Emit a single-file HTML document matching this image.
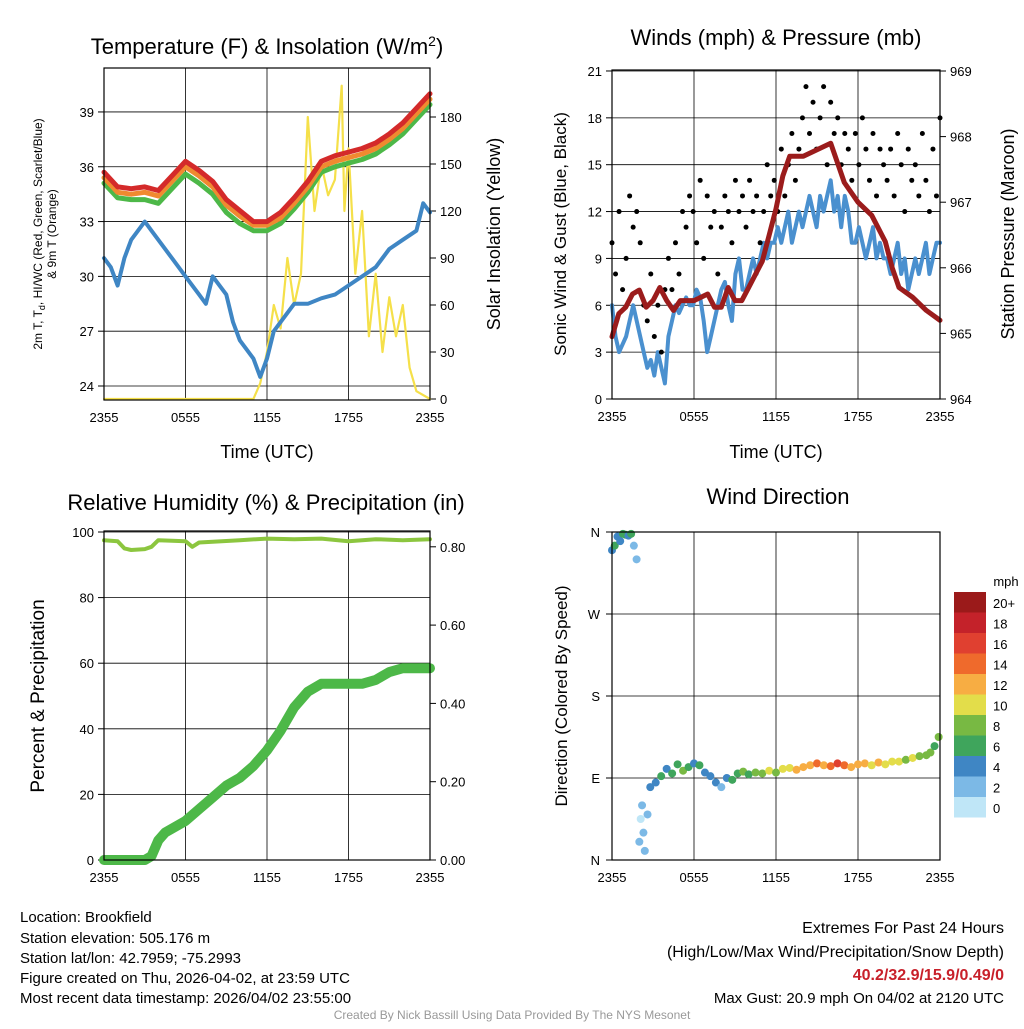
<!DOCTYPE html>
<html><head><meta charset="utf-8"><style>
body{margin:0;background:#fff}
svg text{font-family:"Liberation Sans",sans-serif;fill:#000}
</style></head><body>
<svg id="c" width="1024" height="1024" viewBox="0 0 1024 1024" xmlns="http://www.w3.org/2000/svg">
<rect width="1024" height="1024" fill="#fff"/>
<g id="g"></g>
<text x="20" y="922" font-size="15">Location: Brookfield</text>
<text x="20" y="943" font-size="15">Station elevation: 505.176 m</text>
<text x="20" y="963" font-size="15">Station lat/lon: 42.7959; -75.2993</text>
<text x="20" y="983" font-size="15">Figure created on Thu, 2026-04-02, at 23:59 UTC</text>
<text x="20" y="1003" font-size="15">Most recent data timestamp: 2026/04/02 23:55:00</text>
<text x="1004" y="933" font-size="16" text-anchor="end">Extremes For Past 24 Hours</text>
<text x="1004" y="957" font-size="16" text-anchor="end">(High/Low/Max Wind/Precipitation/Snow Depth)</text>
<text x="1004" y="980" font-size="16" font-weight="bold" text-anchor="end" style="fill:#c8202a">40.2/32.9/15.9/0.49/0</text>
<text x="1004" y="1003" font-size="15" text-anchor="end">Max Gust: 20.9 mph On 04/02 at 2120 UTC</text>
<text x="512" y="1019" font-size="12" text-anchor="middle" style="fill:#999">Created By Nick Bassill Using Data Provided By The NYS Mesonet</text>
</svg>
<script>
const hourTicks=["2355","0555","1155","1755","2355"];
const tempRed=[35.7,34.9,34.8,34.9,34.7,35.5,36.3,35.8,35.2,34.2,33.6,33.0,33.0,33.5,34.3,35.2,36.3,36.6,36.8,37.0,37.3,37.8,38.4,39.2,40.0];
const tempOrange=[35.4,34.6,34.5,34.6,34.4,35.2,36.0,35.5,34.9,33.9,33.3,32.8,32.8,33.2,34.0,34.9,36.0,36.3,36.5,36.7,37.0,37.5,38.1,38.9,39.7];
const tempGreen=[35.1,34.3,34.2,34.2,34.0,34.8,35.6,35.1,34.5,33.5,32.9,32.5,32.5,32.9,33.7,34.6,35.7,36.0,36.2,36.4,36.7,37.2,37.8,38.6,39.4];
const dewTimes=[0,0.5,1,1.5,2,2.5,3,3.5,4,5,6,7,7.5,8,9,9.5,10,11,11.5,12,12.5,13,14,15,16,17,18,19,20,21,22,23,23.5,24];
const dewVals=[31,30.5,29.5,31,32,32.5,33,32.5,32,31,30,29,28.5,30,29,27.5,26.5,25.5,24.5,25.5,27,27.5,28.5,28.5,28.8,29,29.5,30,30.5,31.5,32,32.5,34,33.5];
const solTimes=[0,11,11.5,12,12.5,13,13.5,14,14.5,15,15.5,16,16.5,17,17.5,17.7,18,18.5,19,19.5,20,20.5,21,21.5,22,22.5,23,24];
const solVals=[0,0,10,30,60,45,90,60,80,180,120,150,130,140,200,120,160,80,120,40,80,30,65,40,60,20,5,0];
const presTimes=[0,0.5,1,1.5,2,2.5,3,3.5,4,4.5,5,6,7,7.5,8,8.5,9,9.5,10,11,11.5,12,12.5,13,14,15,16,16.5,17,18,19,20,20.5,21,22,23,24];
const presVals=[964.95,965.3,965.4,965.6,965.66,965.4,965.5,965.7,965.5,965.35,965.5,965.5,965.6,965.4,965.4,965.7,965.5,965.5,965.7,966.1,966.5,966.9,967.4,967.7,967.7,967.8,967.9,967.6,967.3,967.0,966.8,966.4,966.0,965.7,965.55,965.35,965.2];
const windVals=[6,4,3,3.5,4,5,6,5,4,3,2,2.5,1.5,3,2,1,4,5,6,5.5,6,6.5,6,6,7,6.5,5,3,4,5,6,7,7.5,6,5,8,9,7,7,8,9,8,9,10,9,10,10,11,10,11,12,10,11,12,11,12,13,12,11,13,12,13,14,12,13,11,13,12,10,10,11,10,9,10,11,9,10,9,9,8,9,10,8,9,7,8,9,8,9,10,8,9,10,10];
const gustVals=[10,8,12,7,9,13,11,12,10,6,5,8,4,6,3,7,9,7,10,8,12,11,13,12,10,14,9,13,11,12,8,11,13,12,10,14,12,13,11,14,12,13,10,12,15,13,14,12,16,13,15,17,14,16,18,20,17,19,16,18,20,15,19,17,18,15,17,16,14,17,15,18,16,14,17,13,16,15,14,16,13,17,15,12,16,14,15,13,17,14,12,16,13,18];
const rhTimes=[0,1,1.5,2,3,3.5,4,6,6.5,7,8,10,12,14,16,18,20,22,24];
const rhVals=[97.5,97.2,95,94.5,94.8,95.5,97.5,97.2,95.5,96.8,97,97.5,98,97.8,98,97.2,97.8,97.5,97.8];
const prTimes=[0,3,3.5,4,4.5,5,6,7,8,9,10,11,12,13,14,15,16,17,18,19,20,21,22,23,24];
const prVals=[0,0,0.01,0.05,0.07,0.08,0.10,0.13,0.16,0.19,0.21,0.24,0.28,0.33,0.39,0.43,0.45,0.45,0.45,0.45,0.46,0.48,0.49,0.49,0.49];
const dirTimes=[0,0.2,0.4,0.6,0.8,1.0,1.2,1.4,1.6,1.8,2.0,2.1,2.2,2.3,2.4,2.6,2.8,3.2,3.6,4.0,4.4,4.8,5.2,5.6,6.0,6.4,6.8,7.2,7.6,8.0,8.4,8.8,9.2,9.6,10,10.5,11,11.5,12,12.5,13,13.5,14,14.5,15,15.5,16,16.5,17,17.5,18,18.5,19,19.5,20,20.5,21,21.5,22,22.5,23,23.3,23.6,23.9];
const dirVals=[340,345,355,350,358,357,356,358,345,330,20,45,60,30,10,50,80,85,92,100,95,105,98,102,106,104,96,92,85,80,90,88,95,97,94,96,95,98,96,100,101,99,102,104,106,104,103,106,104,102,105,106,104,107,105,108,108,110,112,114,115,118,125,135];
const dirSpd=[5,6,4,5,6,7,5,6,2,3,2,1,2,3,2,3,4,4,6,5,7,6,8,6,5,7,4,5,4,3,5,6,7,8,7,8,9,10,9,10,11,12,12,13,14,13,15,16,14,13,12,13,11,12,11,10,10,9,10,9,9,8,7,8];
const speedColors=["#bfe6f7","#7cb9e6","#3f86c4","#3fa55c","#78b943","#e3dd4a","#f7ad43","#ef6a2c","#e04030","#c4222a","#9b1a1a"];
const speedLabels=["0","2","4","6","8","10","12","14","16","18","20+"];

const NS="http://www.w3.org/2000/svg",G=document.getElementById('g');
function mk(t,a,p){const e=document.createElementNS(NS,t);for(const k in a)e.setAttribute(k,a[k]);(p||G).appendChild(e);return e;}
function txt(x,y,s,sz,anc,extra){const e=mk('text',Object.assign({x:x,y:y,'font-size':sz,'text-anchor':anc||'middle'},extra||{}));e.textContent=s;return e;}
function poly(ts,vs,sx,sy,col,w,name){const d=ts.map((t,i)=>(i?'L':'M')+sx(t).toFixed(1)+','+sy(vs[i]).toFixed(1)).join('');const p=mk('path',{d:d,fill:'none',stroke:col,'stroke-width':w,'stroke-linejoin':'round','stroke-linecap':'round'});

return p;}
function frame(x0,y0,x1,y1,name){const r=mk('rect',{x:x0,y:y0,width:x1-x0,height:y1-y0,fill:'none',stroke:'#000','stroke-width':1.2});

}
function hgrid(x0,x1,y){mk('line',{x1:x0,x2:x1,y1:y,y2:y,stroke:'#000','stroke-width':0.8});}
function vgrid(x,y0,y1){mk('line',{x1:x,x2:x,y1:y0,y2:y1,stroke:'#000','stroke-width':0.8});}
const hrs=i=>i*6;
const idx=a=>a.map((_,i)=>i);
const even=a=>a.map((_,i)=>i*24/(a.length-1));

// Panel 1
{const X0=104,X1=430,Y0=68,Y1=400;const sx=h=>X0+h*(X1-X0)/24,sy=v=>386-(v-24)*18.27,syR=v=>399-v*47/30;
[24,27,30,33,36,39].forEach(v=>{hgrid(X0,X1,sy(v));mk('line',{x1:X0-6,x2:X0,y1:sy(v),y2:sy(v),stroke:'#000'});txt(X0-10,sy(v)+5,v,13,'end');});
[0,30,60,90,120,150,180].forEach(v=>{mk('line',{x1:X1,x2:X1+6,y1:syR(v),y2:syR(v),stroke:'#000'});txt(X1+10,syR(v)+5,v,13,'start');});
hourTicks.forEach((s,i)=>{vgrid(sx(hrs(i)),Y0,Y1);txt(sx(hrs(i)),Y1+22,s,13);});
const ht=idx(tempRed);
poly(solTimes,solVals,sx,syR,'#f5e04a',2.2,'solar-insolation-line');
poly(dewTimes,dewVals,sx,sy,'#3f86c4',4,'dewpoint-line');
poly(ht,tempGreen,sx,sy,'#4db848',5,'heat-index-line');
poly(ht,tempOrange,sx,sy,'#f08a30',5,'temp-9m-line');
poly(ht,tempRed,sx,sy,'#d42a2a',5,'temp-2m-line');
frame(X0,Y0,X1,Y1,'temp-plot-frame');
const t=txt(267,54,'Temperature (F) & Insolation (W/m',22);const ts=mk('tspan',{dy:-8,'font-size':14},t);ts.textContent='2';const t2=mk('tspan',{dy:8},t);t2.textContent=')';
txt(267,458,'Time (UTC)',18);
txt(0,0,'2m T, T',12,'middle',{transform:'translate(42,234) rotate(-90)'}).innerHTML='2m T, T<tspan font-size="9" dy="3">d</tspan><tspan dy="-3">, HI/WC (Red, Green, Scarlet/Blue)</tspan>';
txt(0,0,'& 9m T (Orange)',12,'middle',{transform:'translate(56,234) rotate(-90)'});
txt(0,0,'Solar Insolation (Yellow)',18,'middle',{transform:'translate(500,234) rotate(-90)'});}

// Panel 2
{const X0=612,X1=940,Y0=70,Y1=399;const sx=h=>X0+h*(X1-X0)/24,sy=v=>399-v*15.62,syP=p=>399-(p-964)*65.6;
[0,3,6,9,12,15,18,21].forEach(v=>{hgrid(X0,X1,sy(v));mk('line',{x1:X0-6,x2:X0,y1:sy(v),y2:sy(v),stroke:'#000'});txt(X0-10,sy(v)+5,v,13,'end');});
[964,965,966,967,968,969].forEach(v=>{mk('line',{x1:X1,x2:X1+6,y1:syP(v),y2:syP(v),stroke:'#000'});txt(X1+10,syP(v)+5,v,13,'start');});
hourTicks.forEach((s,i)=>{vgrid(sx(hrs(i)),Y0,Y1);txt(sx(hrs(i)),Y1+22,s,13);});
poly(even(windVals),windVals,sx,sy,'#4a90cf',4,'sonic-wind-line');
gustVals.forEach((v,i)=>{const c=mk('circle',{cx:sx(i*24/(gustVals.length-1)),cy:sy(v),r:2.5,fill:'#000'});

});
poly(presTimes,presVals,sx,syP,'#9b1c1c',5,'pressure-line');
frame(X0,Y0,X1,Y1,'wind-plot-frame');
txt(776,45,'Winds (mph) & Pressure (mb)',22);txt(776,458,'Time (UTC)',18);
txt(0,0,'Sonic Wind & Gust (Blue, Black)',17,'middle',{transform:'translate(566,234) rotate(-90)'});
txt(0,0,'Station Pressure (Maroon)',18,'middle',{transform:'translate(1014,234) rotate(-90)'});}

// Panel 3
{const X0=104,X1=430,Y0=531,Y1=860;const sx=h=>X0+h*(X1-X0)/24,sy=v=>860-v*3.28,syP=v=>860-v*391.5;
[0,20,40,60,80,100].forEach(v=>{hgrid(X0,X1,sy(v));mk('line',{x1:X0-6,x2:X0,y1:sy(v),y2:sy(v),stroke:'#000'});txt(X0-10,sy(v)+5,v,13,'end');});
[0,0.2,0.4,0.6,0.8].forEach(v=>{mk('line',{x1:X1,x2:X1+6,y1:syP(v),y2:syP(v),stroke:'#000'});txt(X1+10,syP(v)+5,v.toFixed(2),13,'start');});
hourTicks.forEach((s,i)=>{vgrid(sx(hrs(i)),Y0,Y1);txt(sx(hrs(i)),Y1+22,s,13);});
poly(rhTimes,rhVals,sx,sy,'#8cc63f',4,'rh-line');
poly(prTimes,prVals,sx,syP,'#4db848',10,'precip-line');
frame(X0,Y0,X1,Y1,'rh-plot-frame');
txt(266,510,'Relative Humidity (%) & Precipitation (in)',22);
txt(0,0,'Percent & Precipitation',19,'middle',{transform:'translate(44,696) rotate(-90)'});}

// Panel 4
{const X0=612,X1=940,Y0=532,Y1=860;const sx=h=>X0+h*(X1-X0)/24,sy=d=>860-d*0.9111;
[[0,'N'],[90,'E'],[180,'S'],[270,'W'],[360,'N']].forEach(([v,s])=>{hgrid(X0,X1,sy(v));mk('line',{x1:X0-6,x2:X0,y1:sy(v),y2:sy(v),stroke:'#000'});txt(X0-12,sy(v)+5,s,13,'end');});
hourTicks.forEach((s,i)=>{vgrid(sx(hrs(i)),Y0,Y1);txt(sx(hrs(i)),Y1+22,s,13);});
dirVals.forEach((d,i)=>{const c=mk('circle',{cx:sx(dirTimes[i]),cy:sy(d),r:4,fill:speedColors[Math.min(10,Math.floor(dirSpd[i]/2))]});

});
frame(X0,Y0,X1,Y1,'direction-plot-frame');
txt(778,504,'Wind Direction',22);
txt(0,0,'Direction (Colored By Speed)',17,'middle',{transform:'translate(567,696) rotate(-90)'});
txt(1006,586,'mph',13);
speedColors.forEach((c,i)=>{const y=797-i*20.5;const r=mk('rect',{x:954,y:y,width:32,height:20.5,fill:c});


txt(993,y+16,speedLabels[i],13,'start');});}
</script>
</body></html>
